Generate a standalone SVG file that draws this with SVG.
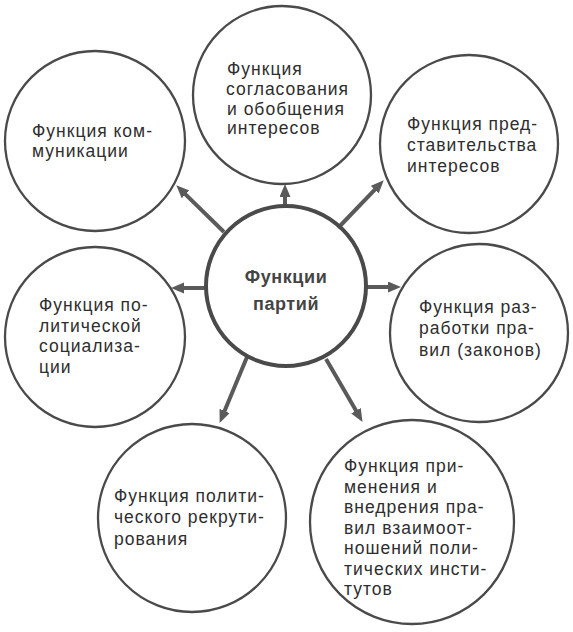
<svg xmlns="http://www.w3.org/2000/svg" width="573" height="632" viewBox="0 0 573 632">
<defs>
<style>
.c{fill:none;stroke:#4a4a4a;stroke-width:2.3}
.cc{fill:none;stroke:#4a4a4a;stroke-width:4}
.t{font-family:"Liberation Sans",Arial,sans-serif;font-size:17.5px;letter-spacing:1px;fill:#2e2e2e}
.tb{font-family:"Liberation Sans",Arial,sans-serif;font-size:18px;letter-spacing:0.6px;font-weight:bold;fill:#444;text-anchor:middle}
.a{stroke:#5a5a5a;stroke-width:4;fill:none;marker-end:url(#ah)}
</style>
<marker id="ah" markerUnits="userSpaceOnUse" markerWidth="14" markerHeight="12" refX="4" refY="5.5" orient="auto">
<path d="M0,0 L13,5.5 L0,11 z" fill="#5a5a5a"/>
</marker>
</defs>
<rect width="573" height="632" fill="#fff"/>
<g id="connectors">
<line class="a" x1="285" y1="208" x2="285" y2="193"/>
<line class="a" x1="224" y1="232" x2="182.7" y2="191.6"/>
<line class="a" x1="338" y1="228" x2="377.5" y2="186.8"/>
<line class="a" x1="207" y1="288" x2="180" y2="288"/>
<line class="a" x1="365" y1="287" x2="392" y2="287"/>
<line class="a" x1="247" y1="357" x2="223.1" y2="414.6"/>
<line class="a" x1="326" y1="359" x2="358" y2="414.1"/>
</g>
<g id="center">
<circle class="cc" cx="286" cy="286" r="80"/>
<text class="tb" x="286" y="283">Функции</text>
<text class="tb" x="286" y="310">партий</text>
</g>
<g id="n-top">
<circle class="c" cx="282" cy="95" r="89"/>
<text class="t" x="227" y="75">Функция</text>
<text class="t" x="226" y="95">согласования</text>
<text class="t" x="227" y="115">и обобщения</text>
<text class="t" x="227" y="134">интересов</text>
</g>
<g id="n-topleft">
<circle class="c" cx="95" cy="141" r="90"/>
<text class="t" x="32" y="137">Функция ком-</text>
<text class="t" x="32" y="157">муникации</text>
</g>
<g id="n-topright">
<circle class="c" cx="469" cy="144" r="89"/>
<text class="t" x="407" y="130">Функция пред-</text>
<text class="t" x="407" y="151">ставительства</text>
<text class="t" x="407" y="172">интересов</text>
</g>
<g id="n-left">
<circle class="c" cx="95" cy="337" r="90"/>
<text class="t" x="39" y="311">Функция по-</text>
<text class="t" x="39" y="332">литической</text>
<text class="t" x="39" y="352">социализа-</text>
<text class="t" x="39" y="373">ции</text>
</g>
<g id="n-right">
<circle class="c" cx="479" cy="333" r="89"/>
<text class="t" x="419" y="313">Функция раз-</text>
<text class="t" x="419" y="334">работки пра-</text>
<text class="t" x="419" y="356">вил (законов)</text>
</g>
<g id="n-bottomleft">
<circle class="c" cx="192" cy="518" r="94"/>
<text class="t" x="114" y="502">Функция полити-</text>
<text class="t" x="114" y="523">ческого рекрути-</text>
<text class="t" x="114" y="545">рования</text>
</g>
<g id="n-bottomright">
<circle class="c" cx="412" cy="522" r="102"/>
<text class="t" x="344" y="472">Функция при-</text>
<text class="t" x="344" y="493">менения и</text>
<text class="t" x="344" y="513">внедрения пра-</text>
<text class="t" x="344" y="534">вил взаимоот-</text>
<text class="t" x="344" y="554">ношений поли-</text>
<text class="t" x="344" y="575">тических инсти-</text>
<text class="t" x="344" y="595">тутов</text>
</g>
</svg>
